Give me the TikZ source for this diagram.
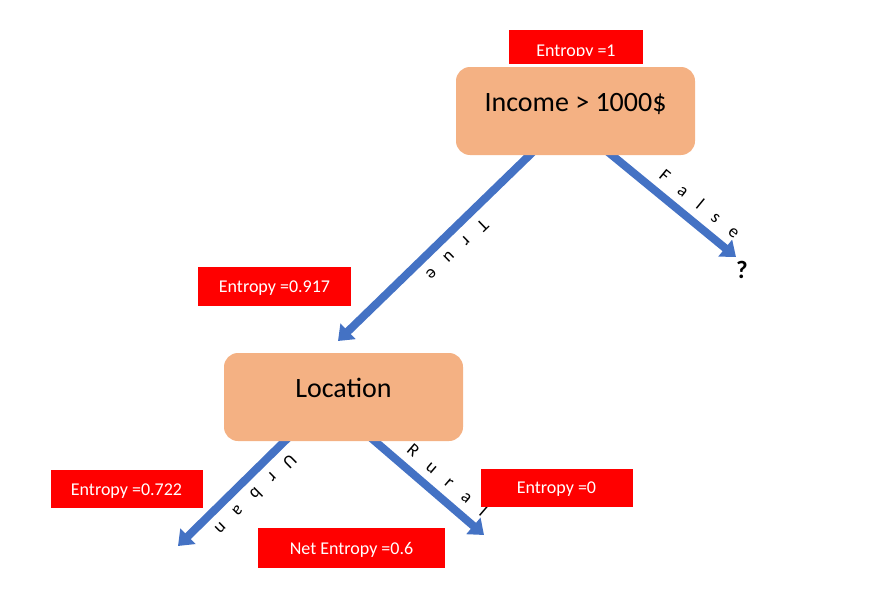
\documentclass[tikz,border=0pt]{standalone}
\usepackage{fontspec}
\setmainfont{Carlito}
\usetikzlibrary{positioning, arrows.meta, calc}
\pgfdeclarelayer{background}
\pgfsetlayers{background,main}
\definecolor{splitfill}{HTML}{F4B183}
\definecolor{branchblue}{HTML}{4472C4}
\tikzset{split node/.style={rectangle, rounded corners=14pt, fill=splitfill, minimum width=239pt, minimum height=88pt, text height=19pt, text depth=18pt, font=\fontsize{28}{32}\selectfont},
	entropy node/.style={rectangle, fill=red, text=white, minimum width=152pt, minimum height=38pt, text height=12pt, text depth=0pt, font=\fontsize{18}{21}\selectfont},
	branch/.style={draw=branchblue, line width=8pt, -{Triangle[length=14pt,width=21pt]}},
	branch label/.style={sloped, allow upside down, above=8pt, inner sep=0pt, font=\fontsize{18}{21}\selectfont},}
\newcommand{\lgap}{\hspace{0.85em}}

\begin{document}
\begin{tikzpicture}[x=1pt, y=-1pt]
			\useasboundingbox (0,0) rectangle (879,597);
			% Splits
			\node[entropy node, minimum width=134pt, minimum height=34pt] (e1) at (576,47) {\raisebox{-3pt}{Entropy =1}};
			\fill[red] ($(e1.south west)+(0,-8.5)$) rectangle (e1.south east);
			\node[split node] (inc) at (575.5,111) {Income > 1000\$};
			\node[split node] (loc) at (343.5,397) {Location};
			\node[font=\bfseries\fontsize{25}{28}\selectfont, inner sep=0pt] (q) at (742,269.5) {?};
			% Entropies
			\node[entropy node, minimum width=153pt, minimum height=39pt] (e917) at (274.5,286.5) {Entropy =0.917};
			\node[entropy node] (e722) at (126.5,489) {Entropy =0.722};
			\node[entropy node] (e0) at (556.5,487.5) {Entropy =0};
			\node[entropy node, minimum width=187pt, minimum height=40pt] (net) at (351.5,548) {Net Entropy =0.6};
			% Ends
			\coordinate (true end) at (338,341);
			\coordinate (false end) at (736,257);
			\coordinate (urban end) at (178,546);
			\coordinate (rural end) at (484,535);
			% Paths
			\begin{pgfonlayer}{background}
			\draw[branch] ($(inc.south west)+(84,-10)$) -- node[branch label, pos=0.47] {T\lgap r\lgap u\lgap e} (true end);
			\draw[branch] ($(inc.south west)+(144,-10)$) -- node[branch label, pos=0.65] {F\lgap a\lgap l\lgap s\lgap e} (false end);
			\draw[branch] ($(loc.south west)+(71,-10)$) -- node[branch label, pos=0.44] {U\lgap r\lgap b\lgap a\lgap n} (urban end);
			\draw[branch] ($(loc.south west)+(139.5,-10)$) -- node[branch label, pos=0.6] {R\lgap u\lgap r\lgap a\lgap l} (rural end);
			\end{pgfonlayer}
		\end{tikzpicture}
\end{document}
